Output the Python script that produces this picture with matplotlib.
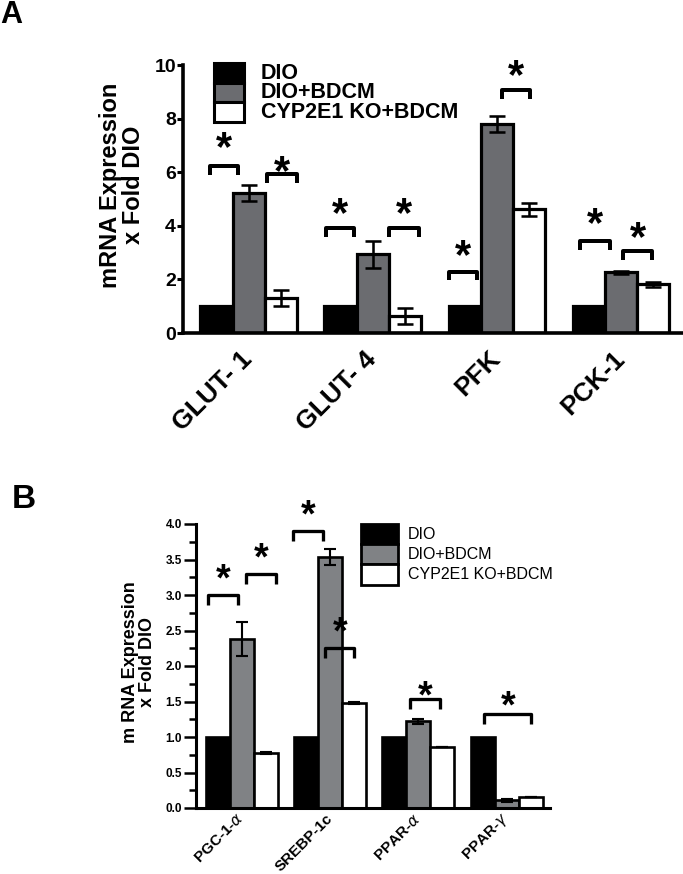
import matplotlib
matplotlib.use("Agg")
import matplotlib.pyplot as plt
from matplotlib.patches import Rectangle
import numpy as np

plt.rcParams['font.family'] = ['Liberation Sans', 'DejaVu Sans']
plt.rcParams['mathtext.fontset'] = 'dejavusans'

W, H = 683, 874

series = ['DIO', 'DIO+BDCM', 'CYP2E1 KO+BDCM']

# panel A
genes_a = ['GLUT- 1', 'GLUT- 4', 'PFK', 'PCK-1']
dio_a = [1.0, 1.0, 1.0, 1.0]
bdcm_a = [5.21, 2.94, 7.80, 2.26]
bdcm_a_err = [0.30, 0.50, 0.30, 0.05]
ko_a = [1.32, 0.63, 4.61, 1.82]
ko_a_err = [0.30, 0.30, 0.23, 0.10]
# significance brackets (left, right in group units, height), star height
sig_a = [(-0.31, -0.085, 6.23), (0.15, 0.39, 5.93), (0.625, 0.85, 3.92), (1.13, 1.37, 3.92),
         (1.61, 1.84, 2.29), (2.04, 2.27, 9.07), (2.67, 2.91, 3.44), (3.02, 3.25, 3.07)]
star_a = [7.3, 6.4, 4.85, 4.85, 3.28, 10.0, 4.47, 3.96]

# panel B
genes_b = ['PGC-1-$\\alpha$', 'SREBP-1c', 'PPAR-$\\alpha$', 'PPAR-$\\gamma$']
dio_b = [1.0, 1.0, 1.0, 1.0]
bdcm_b = [2.38, 3.535, 1.22, 0.11]
bdcm_b_err = [0.24, 0.11, 0.03, 0.02]
ko_b = [0.775, 1.48, 0.86, 0.16]
ko_b_err = [0.01, 0.01, 0.0, 0.0]
sig_b = [(-0.38, -0.04, 3.0), (0.05, 0.39, 3.30), (0.583, 0.923, 3.90), (0.946, 1.274, 2.25),
         (1.908, 2.248, 1.54), (2.746, 3.278, 1.32)]
star_b = [3.36, 3.65, 4.25, 2.61, 1.71, 1.57]


def fx(px):
    return px / W


def fy(py):
    return 1 - py / H


def panel(ax, genes, dio, bdcm, bdcm_err, ko, ko_err, sig, stars, gray, w, lw,
          capsize, tick_d, star_fs):
    x = np.arange(len(genes))
    ax.bar(x - w, dio, w, color='black', edgecolor='black', linewidth=lw, zorder=2)
    ax.bar(x, bdcm, w, color=gray, edgecolor='black', linewidth=lw, zorder=2)
    ax.bar(x + w, ko, w, color='white', edgecolor='black', linewidth=lw, zorder=2)
    ax.errorbar(x, bdcm, yerr=bdcm_err, fmt='none', ecolor='black', elinewidth=lw * 0.8,
                capsize=capsize, capthick=lw * 0.8, zorder=3)
    ax.errorbar(x + w, ko, yerr=ko_err, fmt='none', ecolor='black', elinewidth=lw * 0.8,
                capsize=capsize, capthick=lw * 0.8, zorder=3)
    for (x0, x1, yb), ys in zip(sig, stars):
        ax.plot([x0, x0, x1, x1], [yb - tick_d, yb, yb, yb - tick_d], color='black',
                lw=lw * 1.25, solid_joinstyle='round', solid_capstyle='butt', clip_on=False)
        ax.annotate('*', xy=((x0 + x1) / 2, ys), xytext=(0, -0.55 * star_fs),
                    textcoords='offset points', ha='center', va='baseline',
                    fontsize=star_fs, fontweight='bold', annotation_clip=False)
    for s in ['top', 'right']:
        ax.spines[s].set_visible(False)
    ax.set_xticks(x)


def key(fig, x, top, w, h, gray, lw, tx, fs, weight):
    for i, (col, lab) in enumerate(zip(['black', gray, 'white'], series)):
        y0 = top + i * h
        fig.add_artist(Rectangle((fx(x), fy(y0 + h)), w / W, h / H, transform=fig.transFigure,
                                 facecolor=col, edgecolor='black', linewidth=lw))
        fig.text(fx(tx), fy(y0 + h / 2), lab, fontsize=fs, fontweight=weight,
                 ha='left', va='center')


fig = plt.figure(figsize=(6.83, 8.74), dpi=100)

# ---- A ----
axA = fig.add_axes([fx(183), fy(333), fx(683) - fx(183), fy(65) - fy(333)])
panel(axA, genes_a, dio_a, bdcm_a, bdcm_a_err, ko_a, ko_a_err, sig_a, star_a,
      '#6b6c70', 0.26, 2.3, 5.5, 0.33, 30)
axA.set_xlim(-0.53, 3.5)
axA.set_ylim(0, 10)
axA.set_yticks([0, 2, 4, 6, 8, 10])
axA.spines['left'].set_linewidth(2.6)
axA.spines['bottom'].set_linewidth(2.6)
axA.tick_params(axis='y', length=4, width=2.2, pad=1, labelsize=14)
axA.tick_params(axis='x', length=0, pad=16)
for t in axA.get_yticklabels():
    t.set_fontweight('bold')
axA.set_xticklabels(genes_a, rotation=45, ha='right', va='center', rotation_mode='anchor',
                    fontsize=19, fontweight='bold')
fig.text(fx(122), fy(185), 'mRNA Expression\nx Fold DIO', rotation=90, ha='center',
         va='center', fontsize=17, fontweight='bold', linespacing=1.0)
key(fig, 214, 63.5, 30, 19.4, '#6b6c70', 2.2, 261, 15.5, 'bold')
fig.text(0.0, fy(0), 'A', fontsize=22, fontweight='heavy', ha='left', va='top')

# ---- B ----
axB = fig.add_axes([fx(196), fy(808), fx(550) - fx(196), fy(524) - fy(808)])
panel(axB, genes_b, dio_b, bdcm_b, bdcm_b_err, ko_b, ko_b_err, sig_b, star_b,
      '#808285', 0.272, 1.9, 4.5, 0.14, 27)
axB.set_xlim(-0.52, 3.49)
axB.set_ylim(0, 4)
axB.set_yticks(np.arange(0, 4.01, 0.5))
axB.set_yticks(np.arange(0.25, 4.0, 0.5), minor=True)
axB.yaxis.set_major_formatter(matplotlib.ticker.FormatStrFormatter('%.1f'))
axB.spines['left'].set_linewidth(2.2)
axB.spines['bottom'].set_linewidth(2.2)
axB.tick_params(axis='y', which='major', length=9, width=1.8, pad=1, labelsize=8.5)
axB.tick_params(axis='y', which='minor', length=5, width=1.8)
axB.tick_params(axis='x', length=0, pad=6)
for t in axB.get_yticklabels():
    t.set_fontweight('bold')
axB.set_xticklabels(genes_b, rotation=45, ha='right', va='center', rotation_mode='anchor',
                    fontsize=11, fontweight='bold')
fig.text(fx(139), fy(662), 'm RNA Expression\nx Fold DIO', rotation=90, ha='center',
         va='center', fontsize=13, fontweight='bold', linespacing=1.05)
key(fig, 361, 524, 37, 20.2, '#808285', 2.0, 408, 11.5, 'normal')
fig.text(fx(12), fy(484), 'B', fontsize=24, fontweight='heavy', ha='left', va='top')

fig.savefig('out.png', dpi=100)
